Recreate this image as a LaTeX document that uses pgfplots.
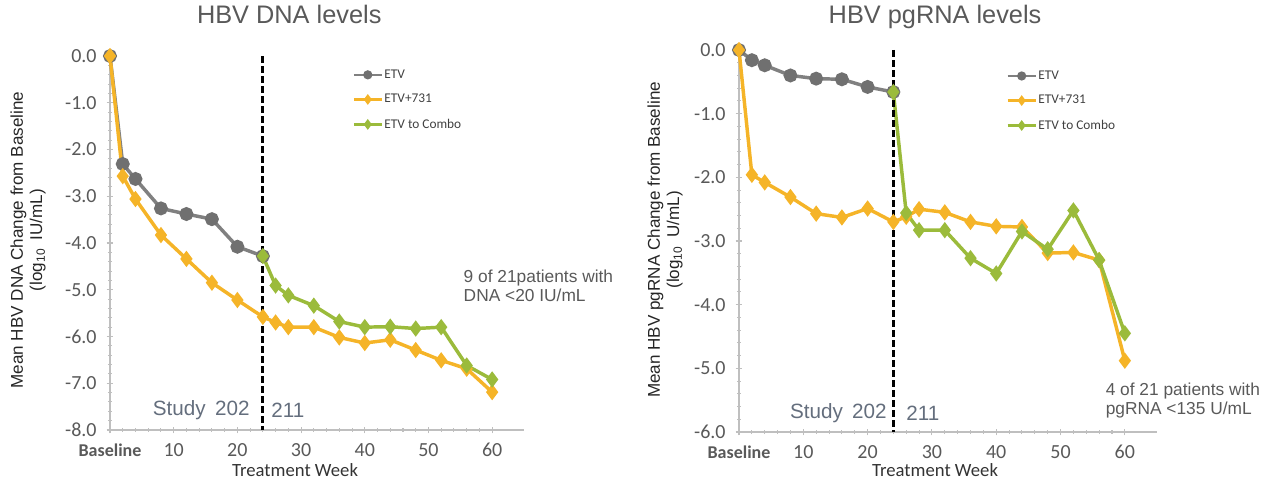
\documentclass[border=0pt]{standalone}
\usepackage{fontspec}
\setmainfont{Liberation Sans}
\newfontfamily\calibri{Carlito}
\usepackage{pgfplots}
\pgfplotsset{compat=1.18}

\definecolor{etvline}{RGB}{128,128,128}
\definecolor{etvmark}{RGB}{112,112,112}
\definecolor{orng}{RGB}{245,180,40}
\definecolor{grn}{RGB}{155,187,59}
\definecolor{tickgray}{RGB}{89,89,89}
\definecolor{axisgray}{RGB}{191,191,191}
\definecolor{studygray}{RGB}{100,110,125}

\pgfplotsset{
  hbv/.style={
    scale only axis, anchor=south west, clip=false,
    xmin=0, xmax=65,
    axis x line*=bottom, axis y line*=left,
    axis line style={axisgray, line width=1pt},
    xtick={0,10,...,60},
    xticklabels={{\fontsize{13.5}{14}\selectfont\textbf{Baseline}},10,20,30,40,50,60},
    minor x tick num=4, minor y tick num=4,
    tick align=center,
    major tick length=5pt, minor tick length=3pt,
    every tick/.style={axisgray, line width=0.8pt},
    tick label style={font=\calibri\fontsize{15}{15}\selectfont, text=tickgray},
    xticklabel style={yshift=-4pt},
    yticklabel style={xshift=-4pt, /pgf/number format/.cd, fixed, fixed zerofill, precision=1, assume math mode=true},
    xlabel={Treatment Week},
    xlabel style={font=\calibri\fontsize{14}{14}\selectfont, text=black!80, anchor=center},
    ylabel style={align=center, font=\fontsize{12.8}{14.5}\selectfont, text=black!85, anchor=center},
    title style={font=\fontsize{19}{20}\selectfont, text=tickgray, anchor=base, yshift=-2pt},
    legend cell align=left,
    legend style={draw=none, fill=none, inner sep=0pt, anchor=north west,
      font=\calibri\fontsize{10}{11}\selectfont, text=black!75, row sep=8.5pt,
      nodes={inner sep=1pt}},
    legend image code/.code={\draw[mark repeat=2, mark phase=2, ##1, line width=2pt, mark size=2.4pt]
      plot coordinates {(0pt,0pt) (10.5pt,0pt) (21pt,0pt)};},
    every axis plot/.append style={line width=2.6pt},
  },
  etv/.style={etvline, mark=*, mark size=3.9pt, mark options={fill=etvmark, draw=etvmark, solid}},
  combo/.style={orng, mark=diamond*, mark size=4pt, mark options={fill=orng, solid}},
  switch/.style={grn, mark=diamond*, mark size=4pt, mark options={fill=grn, solid}},
  cut/.style={black, line width=2.2pt, dash pattern=on 5pt off 2.5pt, mark=none, forget plot},
}

\begin{document}
\begin{tikzpicture}
\useasboundingbox (0,0) rectangle (949.5pt,363.75pt);

% HBV DNA
\begin{axis}[hbv,
  at={(82.5pt,41.25pt)}, width=310.5pt, height=280.5pt,
  ymin=-8, ymax=0, ytick={-8,-7,...,0},
  title={HBV DNA levels},
  title style={at={(axis description cs:0.433,1.072)}},
  ylabel={Mean HBV DNA Change from Baseline\\(log\textsubscript{10}\enspace IU/mL)},
  ylabel style={at={(axis description cs:-0.198,0.508)}},
  xlabel style={at={(axis description cs:0.447,-0.107)}},
  legend style={at={(rel axis cs:0.585,0.968)}},
]
\addplot[etv] coordinates {(0,0)(2,-2.31)(4,-2.63)(8,-3.26)(12,-3.38)(16,-3.49)(20,-4.08)(24,-4.28)};
\addplot[combo] coordinates {(0,0)(2,-2.57)(4,-3.06)(8,-3.83)(12,-4.34)(16,-4.85)(20,-5.22)(24,-5.58)(26,-5.70)(28,-5.80)(32,-5.80)(36,-6.02)(40,-6.14)(44,-6.07)(48,-6.29)(52,-6.51)(56,-6.69)(60,-7.19)};
\addplot[switch] coordinates {(24,-4.28)(26,-4.91)(28,-5.12)(32,-5.34)(36,-5.68)(40,-5.80)(44,-5.79)(48,-5.83)(52,-5.80)(56,-6.62)(60,-6.92)};
\legend{ETV, ETV+731, ETV to Combo}
\addplot[cut] coordinates {(24,0)(24,-8)};
\node[anchor=west, font=\fontsize{15.5}{16}\selectfont, text=studygray] at (axis cs:6,-7.57) {Study\hspace{0.45em}202};
\node[anchor=west, font=\fontsize{15.5}{16}\selectfont, text=studygray] at (axis cs:24.6,-7.57) {211};
\node[anchor=west, align=left, font=\fontsize{13}{14.5}\selectfont, text=tickgray] at (axis cs:54.8,-4.91) {9 of 21patients with\\DNA <20 IU/mL};
\end{axis}

% HBV pgRNA
\begin{axis}[hbv,
  at={(554.25pt,39.75pt)}, width=313.5pt, height=286.5pt,
  ymin=-6, ymax=0, ytick={-6,-5,...,0},
  title={HBV pgRNA levels},
  title style={at={(axis description cs:0.469,1.055)}},
  ylabel={Mean HBV pgRNA Change from Baseline\\(log\textsubscript{10}\enspace U/mL)},
  ylabel style={at={(axis description cs:-0.177,0.503)}},
  xlabel style={at={(axis description cs:0.469,-0.1)}},
  legend style={at={(rel axis cs:0.639,0.95)}},
]
\addplot[etv] coordinates {(0,0)(2,-0.16)(4,-0.24)(8,-0.40)(12,-0.45)(16,-0.46)(20,-0.58)(24,-0.66)};
\addplot[combo] coordinates {(0,0)(2,-1.96)(4,-2.08)(8,-2.31)(12,-2.57)(16,-2.63)(20,-2.49)(24,-2.70)(26,-2.62)(28,-2.50)(32,-2.55)(36,-2.70)(40,-2.77)(44,-2.78)(48,-3.19)(52,-3.18)(56,-3.30)(60,-4.88)};
\addplot[switch] coordinates {(24,-0.66)(26,-2.56)(28,-2.83)(32,-2.83)(36,-3.27)(40,-3.51)(44,-2.85)(48,-3.13)(52,-2.52)(56,-3.30)(60,-4.45)};
\legend{ETV, ETV+731, ETV to Combo}
\addplot[cut] coordinates {(24,0)(24,-6)};
\node[anchor=west, font=\fontsize{15.5}{16}\selectfont, text=studygray] at (axis cs:7.2,-5.70) {Study\hspace{0.45em}202};
\node[anchor=west, font=\fontsize{15.5}{16}\selectfont, text=studygray] at (axis cs:25.3,-5.70) {211};
\node[anchor=west, align=left, font=\fontsize{13}{14.5}\selectfont, text=tickgray] at (axis cs:56.3,-5.51) {4 of 21 patients with\\pgRNA <135 U/mL};
\end{axis}
\end{tikzpicture}
\end{document}
